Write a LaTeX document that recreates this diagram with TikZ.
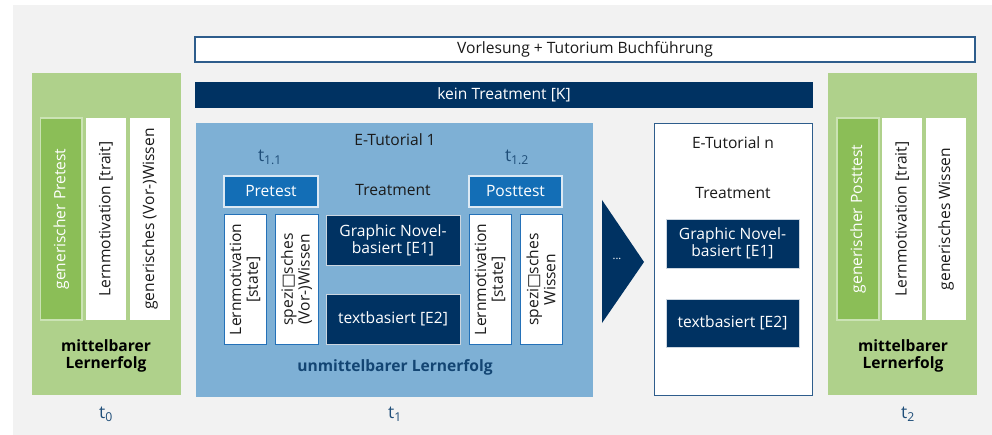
\documentclass[tikz,border=0pt]{standalone}
\usepackage{fontspec}
\setmainfont{Open Sans}
\setsansfont{Open Sans}
\newfontfamily\symf{DejaVu Sans}
\definecolor{bggray}{HTML}{F2F2F2}
\definecolor{lgreen}{HTML}{AFD18B}
\definecolor{dgreen}{HTML}{8BBE57}
\definecolor{gborder}{HTML}{CBE3B4}
\definecolor{lblue}{HTML}{7EB0D5}
\definecolor{mblue}{HTML}{136EB6}
\definecolor{bborder}{HTML}{2471B8}
\definecolor{navy}{HTML}{003262}
\definecolor{framebl}{HTML}{2E5D8C}
\definecolor{tcol}{HTML}{1F4E79}
\definecolor{txt}{HTML}{1A1A1A}
\tikzset{
  base/.style={font=\fontsize{15.6}{16.8}\selectfont, align=center, inner sep=0pt},
  greenpanel/.style={base, fill=lgreen, minimum width=149pt, minimum height=322pt},
  greenbar/.style={base, rotate=90, fill=dgreen, draw=gborder, line width=1.5pt, text=white, minimum width=202pt, minimum height=41.5pt},
  whitebar/.style={base, rotate=90, fill=white, text=txt, minimum width=202pt, minimum height=40pt},
  statebar/.style={base, rotate=90, fill=white, draw=bborder, line width=1pt, text=txt, minimum width=129pt, minimum height=42pt},
  testbox/.style={base, fill=mblue, draw=white!85!mblue, line width=1.2pt, text=white, minimum width=94pt, minimum height=31pt},
  navybox/.style={base, fill=navy, draw=white!80!navy, line width=0.8pt, text=white},
  plain/.style={base, text=txt},
  boldlab/.style={base, font=\fontsize{15.6}{16.8}\selectfont\bfseries},
  tlab/.style={base, text=tcol, font=\fontsize{17.5}{19}\selectfont},
}
\begin{document}
\begin{tikzpicture}[x=1pt,y=-1pt]
\useasboundingbox (0,0) rectangle (992,435);
\fill[bggray] (13,5) rectangle (992,435);

% top bars
\node[base, fill=white, draw=framebl, line width=1.2pt, text=txt, minimum width=780pt, minimum height=25pt] (vorl) at (585,49.5) {Vorlesung + Tutorium Buchführung};
\node[navybox, draw=none, minimum width=618pt, minimum height=26pt] (kein) at (504,95) {kein Treatment [K]};

% left green panel
\node[greenpanel] (lpanel) at (106.5,234) {};
\node[greenbar] (lpre) at (61.25,219) {generischer Pretest};
\node[whitebar] (ltrait) at (106,219) {Lernmotivation [trait]};
\node[whitebar] (lwiss) at (150,219) {generisches (Vor-)Wissen};
\node[boldlab, text=black] (lmit) at (106,356) {mittelbarer\\Lernerfolg};
\node[tlab] (t0) at (106,414) {t\textsubscript{0}};

% E-Tutorial 1
\node[base, fill=lblue, minimum width=397pt, minimum height=274pt] (et1) at (394.5,260) {};
\node[plain] (et1lab) at (395,140) {E-Tutorial 1};
\node[tlab] (t11) at (270,157) {t\textsubscript{1.1}};
\node[testbox] (pre) at (271,191.5) {Pretest};
\node[plain] (treat1) at (393,190) {Treatment};
\node[statebar] (st1) at (245,279.5) {Lernmotivation\\{[state]}};
\node[statebar, minimum height=43pt] (sp1) at (296.5,279.5) {spezi{\symf □}sches\\(Vor-)Wissen};
\node[navybox, minimum width=134pt, minimum height=50pt] (gn1) at (393,240) {Graphic Novel-\\basiert [E1]};
\node[navybox, minimum width=134pt, minimum height=50pt] (tb1) at (393,319) {textbasiert [E2]};
\node[tlab] (t12) at (517,157) {t\textsubscript{1.2}};
\node[testbox, minimum width=93pt] (post) at (515.5,191.5) {Posttest};
\node[statebar] (st2) at (490,279.5) {Lernmotivation\\{[state]}};
\node[statebar] (sp2) at (541,279.5) {spezi{\symf □}sches\\Wissen};
\node[boldlab, text=navy!85!lblue] (umit) at (395,367) {unmittelbarer Lernerfolg};
\node[tlab] (t1) at (395,414) {t\textsubscript{1}};

% arrow triangle
\fill[navy] (602,200) -- (644,262) -- (602,323) -- cycle;
\node[base, text=white, font=\fontsize{11}{12}\selectfont] (dots) at (617,259) {...};

% E-Tutorial n
\node[base, fill=white, draw=framebl, line width=1pt, minimum width=158pt, minimum height=271pt] (etn) at (733,259.5) {};
\node[plain] (etnlab) at (733,143) {E-Tutorial n};
\node[plain] (treatn) at (733,193) {Treatment};
\node[navybox, minimum width=133pt, minimum height=49pt] (gnn) at (732.5,243.5) {Graphic Novel-\\basiert [E1]};
\node[navybox, minimum width=133pt, minimum height=48pt] (tbn) at (732.5,323) {textbasiert [E2]};

% right green panel
\node[greenpanel] (rpanel) at (902.5,234) {};
\node[greenbar, minimum height=42pt] (rpost) at (858,219) {generischer Posttest};
\node[whitebar] (rtrait) at (902,219) {Lernmotivation [trait]};
\node[whitebar] (rwiss) at (946,219) {generisches Wissen};
\node[boldlab, text=black] (rmit) at (903,356) {mittelbarer\\Lernerfolg};
\node[tlab] (t2) at (908,414) {t\textsubscript{2}};
\end{tikzpicture}
\end{document}
